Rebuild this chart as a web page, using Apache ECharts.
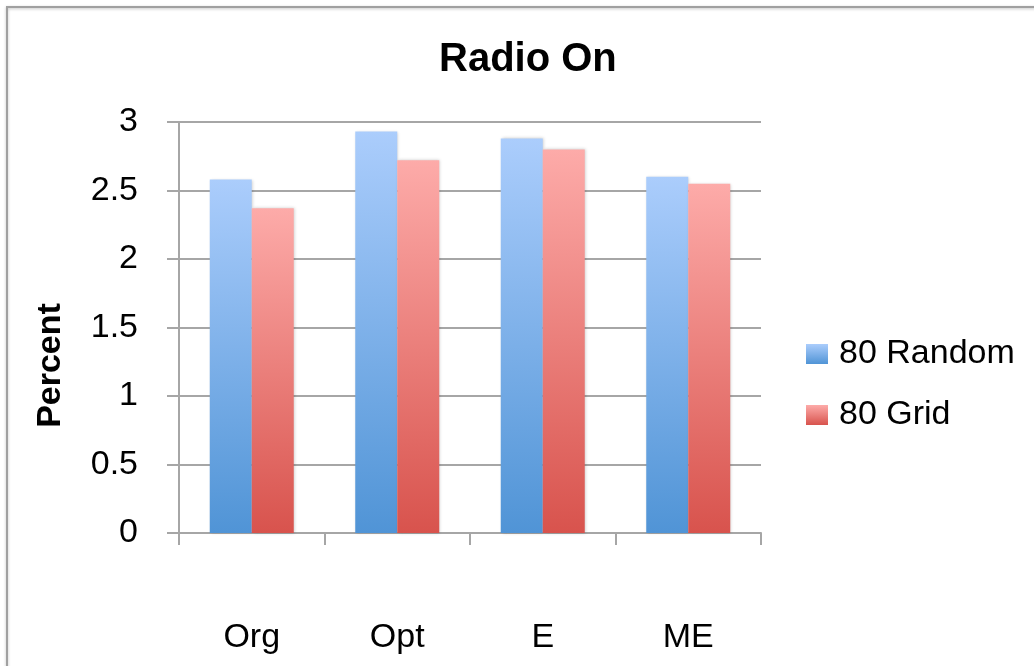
<!DOCTYPE html>
<html>
<head>
<meta charset="utf-8">
<script src="https://cdn.jsdelivr.net/npm/echarts@6/dist/echarts.min.js"></script>
<style>
  html, body { margin: 0; padding: 0; background: #fff; }
  #chart { width: 1034px; height: 666px; }
</style>
</head>
<body>
<div id="chart"></div>
<script>
// 数据
const categories = ['Org', 'Opt', 'E', 'ME'];
const seriesNames = ['80 Random', '80 Grid'];
const randomValues = [2.58, 2.93, 2.88, 2.60];
const gridValues = [2.37, 2.72, 2.80, 2.55];
const yTicks = [0, 0.5, 1, 1.5, 2, 2.5, 3];

const FONT = 'Liberation Sans, Arial, sans-serif';
const LINE = '#a6a6a6';

const chart = echarts.init(document.getElementById('chart'));

// 每根柱子上浅下深的渐变
function grad(top, bottom) {
    return new echarts.graphic.LinearGradient(0, 0, 0, 1, [
        { offset: 0, color: top },
        { offset: 1, color: bottom }
    ]);
}

const option = {
    backgroundColor: '#fff',
    animation: false,
    title: {
        text: 'Radio On',
        left: 434,
        top: 35,
        textStyle: { fontFamily: FONT, fontSize: 40, fontWeight: 'bold', color: '#000' }
    },
    graphic: [
        {
            type: 'rect',
            shape: { x: 7, y: 7, width: 1200, height: 900 },
            style: { fill: 'none', stroke: '#a0a0a0', lineWidth: 2,
                     shadowBlur: 3, shadowColor: 'rgba(0,0,0,0.25)', shadowOffsetY: 1 },
            silent: true
        }
    ],
    legend: {
        orient: 'vertical',
        left: 801,
        top: 332,
        itemWidth: 22,
        itemHeight: 20,
        itemGap: 27,
        icon: 'rect',
        data: seriesNames,
        textStyle: { fontFamily: FONT, fontSize: 34, color: '#000', padding: [0, 0, 0, 6] }
    },
    grid: { left: 179, right: 273, top: 122, bottom: 133 },
    xAxis: {
        type: 'category',
        data: categories,
        axisLine: { lineStyle: { color: LINE, width: 2 } },
        axisTick: { show: true, length: 12, lineStyle: { color: LINE, width: 2 } },
        axisLabel: { margin: 88, fontFamily: FONT, fontSize: 34, color: '#000' }
    },
    yAxis: {
        type: 'value',
        min: 0,
        max: 3,
        interval: 0.5,
        name: 'Percent',
        nameLocation: 'middle',
        nameRotate: 90,
        nameGap: 111,
        nameTextStyle: { fontFamily: FONT, fontSize: 34, fontWeight: 'bold', color: '#000',
                         padding: [0, 76, 0, 0] },
        axisLine: { show: true, lineStyle: { color: LINE, width: 2 } },
        axisTick: { show: true, length: 12, lineStyle: { color: LINE, width: 2 } },
        splitLine: { lineStyle: { color: LINE, width: 2 } },
        axisLabel: {
            margin: 41, fontFamily: FONT, fontSize: 34, color: '#000',
            formatter: v => yTicks.includes(v) ? String(v) : ''
        }
    },
    series: [
        {
            name: seriesNames[0],
            type: 'bar',
            data: randomValues,
            barWidth: 42,
            barGap: '0%',
            itemStyle: { color: grad('#abcdfc', '#5094d6'),
                         shadowBlur: 3, shadowColor: 'rgba(0,0,0,0.2)', shadowOffsetX: 1 }
        },
        {
            name: seriesNames[1],
            type: 'bar',
            data: gridValues,
            barWidth: 42,
            itemStyle: { color: grad('#fdaba9', '#d8534d'),
                         shadowBlur: 3, shadowColor: 'rgba(0,0,0,0.2)', shadowOffsetX: 1 }
        }
    ]
};

chart.setOption(option);
</script>
</body>
</html>
